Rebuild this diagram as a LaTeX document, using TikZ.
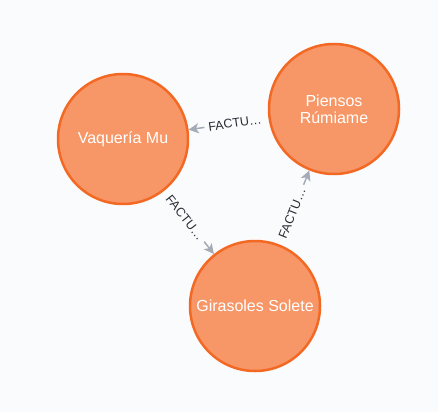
\documentclass[tikz,border=0pt]{standalone}
\usepackage{fontspec}
\setmainfont{Liberation Sans}
\usetikzlibrary{arrows.meta}
\definecolor{bg}{HTML}{F9FBFD}
\definecolor{nodefill}{HTML}{F79767}
\definecolor{nodeborder}{HTML}{F36924}
\definecolor{edgecol}{HTML}{A5ABB6}
\definecolor{lblcol}{HTML}{2A2C34}
\tikzset{
  entity/.style={circle, fill=nodefill, draw=nodeborder, line width=2.5pt,
    minimum size=130pt, inner sep=0pt, text=white, align=center,
    font=\fontsize{16}{17}\selectfont},
  rel/.style={draw=edgecol, line width=1.5pt, shorten <=9pt,
    -{Stealth[length=10pt,width=10pt,inset=2.5pt]}},
  rellbl/.style={sloped, fill=bg, inner ysep=1.5pt, inner xsep=4pt, text=lblcol,
    font=\fontsize{12.5}{12.5}\selectfont, pos=0.42}
}
\begin{document}
\begin{tikzpicture}[x=1pt,y=-1pt]
\fill[bg] (0,0) rectangle (438,412);
\useasboundingbox (0,0) rectangle (438,412);
\node[entity] (v) at (123,139) {Vaquería Mu};
\node[entity] (p) at (334,109) {Piensos\\Rúmiame};
\node[entity] (g) at (255,306) {Girasoles Solete};
\draw[rel] (p) -- node[rellbl] {FACTU…} (v);
\draw[rel] (v) -- node[rellbl] {FACTU…} (g);
\draw[rel] (g) -- node[rellbl] {FACTU…} (p);
\end{tikzpicture}
\end{document}
